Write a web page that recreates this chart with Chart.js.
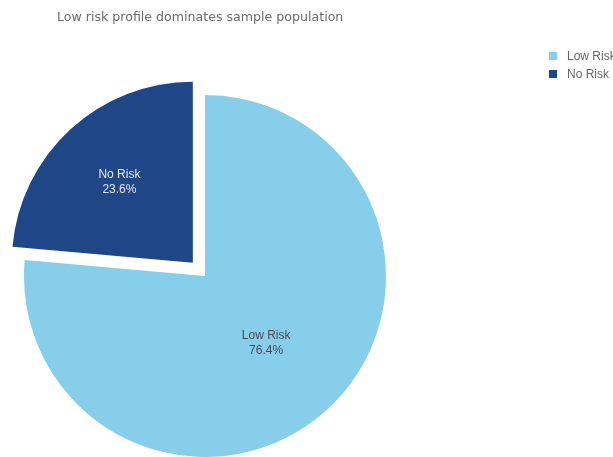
<!DOCTYPE html>
<html>
<head>
<meta charset="utf-8">
<script src="https://cdn.jsdelivr.net/npm/chart.js@4.4.1/dist/chart.umd.min.js"></script>
<style>
  html, body { margin: 0; padding: 0; background: #ffffff; overflow: hidden; }
  #wrap { position: relative; width: 613px; height: 457px; overflow: hidden; }
  #c { position: absolute; left: 0; top: 0; }
  #title { position: absolute; left: 57px; top: 9px; font-family: "DejaVu Sans", sans-serif; font-size: 12.6px; line-height: 16px; color: #6b6b6b; white-space: nowrap; }
  #legend { position: absolute; left: 549px; top: 47px; font-family: "Liberation Sans", Arial, sans-serif; font-size: 12px; color: #666666; white-space: nowrap; }
  .item { height: 18px; line-height: 18px; position: relative; padding-left: 18px; }
  .sw { position: absolute; left: 0; top: 5px; width: 8px; height: 8px; }
</style>
</head>
<body>
<div id="wrap">
  <canvas id="c" width="613" height="457"></canvas>
  <div id="title"></div>
  <div id="legend"></div>
</div>
<script>
const titleText = "Low risk profile dominates sample population";
const categories = ["Low Risk", "No Risk"];
const values = [76.4, 23.6];
const colors = ["#87CEEB", "#1F4788"];
const labelColors = ["#4a4a4a", "#e6e6e6"];
const sliceOffsets = [0, 72];
const labelRadiusFrac = [0.5, 0.70];

document.getElementById("title").textContent = titleText;
const legend = document.getElementById("legend");
categories.forEach((c, i) => {
  const d = document.createElement("div");
  d.className = "item";
  const s = document.createElement("span");
  s.className = "sw";
  s.style.background = colors[i];
  d.appendChild(s);
  d.appendChild(document.createTextNode(c));
  legend.appendChild(d);
});

const sliceLabels = {
  id: "sliceLabels",
  afterDatasetsDraw(chart) {
    const ctx = chart.ctx;
    const meta = chart.getDatasetMeta(0);
    const total = values.reduce((a, b) => a + b, 0);
    meta.data.forEach((arc, i) => {
      const p = arc.getProps(["x", "y", "startAngle", "endAngle", "outerRadius"], true);
      const mid = (p.startAngle + p.endAngle) / 2;
      const r = p.outerRadius * labelRadiusFrac[i];
      const x = p.x + Math.cos(mid) * r;
      const y = p.y + Math.sin(mid) * r;
      ctx.save();
      ctx.fillStyle = labelColors[i];
      ctx.font = '12px "Liberation Sans", Arial, sans-serif';
      ctx.textAlign = "center";
      ctx.textBaseline = "middle";
      ctx.fillText(categories[i], x, y - 7.5);
      ctx.fillText((values[i] / total * 100).toFixed(1) + "%", x, y + 7.5);
      ctx.restore();
    });
  }
};

new Chart(document.getElementById("c"), {
  type: "pie",
  data: {
    labels: categories,
    datasets: [{
      data: values,
      backgroundColor: colors,
      borderWidth: 0,
      offset: sliceOffsets,
      clip: false
    }]
  },
  options: {
    responsive: false,
    devicePixelRatio: 1,
    animation: false,
    radius: 181,
    layout: { padding: { left: 0, right: 203, top: 95, bottom: 0 } },
    plugins: {
      legend: { display: false },
      tooltip: { enabled: false },
      title: { display: false }
    }
  },
  plugins: [sliceLabels]
});
</script>
</body>
</html>
